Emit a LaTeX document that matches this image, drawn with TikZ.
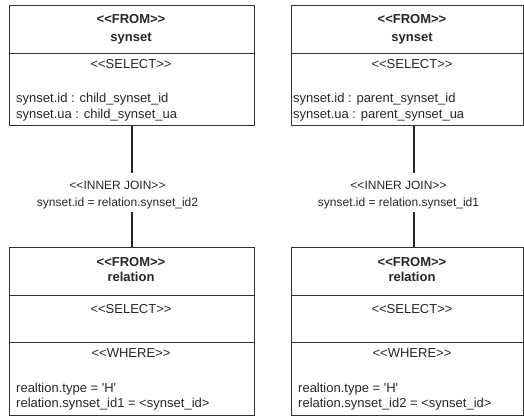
\documentclass[tikz,border=0pt]{standalone}
\usepackage{fontspec}
\newfontfamily\arialf{Liberation Sans}
\begin{document}
\begin{tikzpicture}[x=1pt,y=-1pt,
  frame/.style={draw=black!80, line width=1.1pt, inner sep=0pt, anchor=north west},
  bt/.style={font=\arialf\fontsize{13}{16}\selectfont, text=black!85, inner sep=0pt, anchor=base},
  btl/.style={bt, anchor=base west},
  hd/.style={bt, font=\arialf\fontsize{13}{16}\selectfont\bfseries},
  lb/.style={font=\arialf\fontsize{12}{14}\selectfont, text=black!85, inner sep=0pt, anchor=base},
  conn/.style={draw=black!85, line width=1.6pt}]
\useasboundingbox (0,0) rectangle (524,416);

% ---------- left column ----------
\node[frame, minimum width=245pt, minimum height=48pt] (lfrom) at (9,5) {};
\node[frame, minimum width=245pt, minimum height=72pt] (lsel) at (9,53) {};
\node[hd] (lfromA) at (131,23) {<<FROM>>};
\node[hd] (lfromB) at (131,41) {synset};
\node[bt] (lselA) at (131,68) {<<SELECT>>};
\node[btl] (lselB) at (16,102) {synset.id : child\_synset\_id};
\node[btl] (lselC) at (16,118) {synset.ua : child\_synset\_ua};

\node[lb] (ljoinA) at (117.5,189.5) {<<INNER JOIN>>};
\node[lb] (ljoinB) at (117.5,206) {synset.id = relation.synset\_id2};
\coordinate (lj1) at (132,173);
\coordinate (lj2) at (132,212);

\node[frame, minimum width=245pt, minimum height=48pt] (lrfrom) at (9,247) {};
\node[frame, minimum width=245pt, minimum height=47pt] (lrsel) at (9,295) {};
\node[frame, minimum width=245pt, minimum height=73pt] (lrwhere) at (9,342) {};
\node[hd] (lrfromA) at (131,266.7) {<<FROM>>};
\node[hd] (lrfromB) at (131,281.7) {relation};
\node[bt] (lrselA) at (131,313) {<<SELECT>>};
\node[bt] (lrwhA) at (131,357.7) {<<WHERE>>};
\node[btl] (lrwhB) at (16,392) {realtion.type = 'H'};
\node[btl] (lrwhC) at (16,407.7) {relation.synset\_id1 = <synset\_id>};

\draw[conn] (lsel.south -| lj1) -- (lj1);
\draw[conn] (lj2) -- (lj2 |- lrfrom.north);

% ---------- right column ----------
\node[frame, minimum width=232pt, minimum height=48pt] (rfrom) at (291,5) {};
\node[frame, minimum width=232pt, minimum height=72pt] (rsel) at (291,53) {};
\node[hd] (rfromA) at (412,23) {<<FROM>>};
\node[hd] (rfromB) at (412,41) {synset};
\node[bt] (rselA) at (412,68) {<<SELECT>>};
\node[btl] (rselB) at (293,102) {synset.id : parent\_synset\_id};
\node[btl] (rselC) at (293,118) {synset.ua : parent\_synset\_ua};

\node[lb] (rjoinA) at (398.5,189.5) {<<INNER JOIN>>};
\node[lb] (rjoinB) at (398.5,206) {synset.id = relation.synset\_id1};
\coordinate (rj1) at (414,173);
\coordinate (rj2) at (414,212);

\node[frame, minimum width=232pt, minimum height=48pt] (rrfrom) at (291,247) {};
\node[frame, minimum width=232pt, minimum height=47pt] (rrsel) at (291,295) {};
\node[frame, minimum width=232pt, minimum height=73pt] (rrwhere) at (291,342) {};
\node[hd] (rrfromA) at (412,266.7) {<<FROM>>};
\node[hd] (rrfromB) at (412,281.7) {relation};
\node[bt] (rrselA) at (412,313) {<<SELECT>>};
\node[bt] (rrwhA) at (412,357.7) {<<WHERE>>};
\node[btl] (rrwhB) at (298,392) {realtion.type = 'H'};
\node[btl] (rrwhC) at (298,407.7) {relation.synset\_id2 = <synset\_id>};

\draw[conn] (rsel.south -| rj1) -- (rj1);
\draw[conn] (rj2) -- (rj2 |- rrfrom.north);
\end{tikzpicture}
\end{document}
